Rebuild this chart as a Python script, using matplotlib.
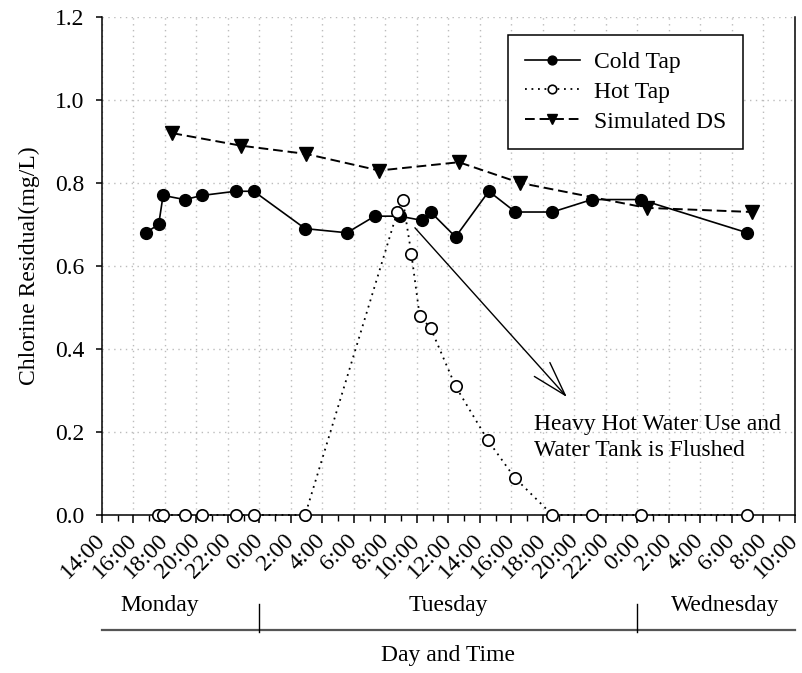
import matplotlib
matplotlib.use('Agg')
import matplotlib.pyplot as plt
import matplotlib.transforms as mtransforms
from matplotlib.lines import Line2D
from matplotlib.ticker import MultipleLocator

plt.rcParams['font.family'] = ['Liberation Serif', 'DejaVu Serif']
plt.rcParams['font.size'] = 17

# sampling times in hours counted from Monday 0:00
cold_time = [16.77, 17.6, 17.88, 19.25, 20.37, 22.48, 23.64, 26.9, 29.55, 31.32,
             32.9, 34.3, 34.87, 36.45, 38.56, 40.25, 42.6, 45.1, 48.2, 54.97]
cold_cl = [0.68, 0.70, 0.77, 0.76, 0.77, 0.78, 0.78, 0.69, 0.68, 0.72,
           0.72, 0.71, 0.73, 0.67, 0.78, 0.73, 0.73, 0.76, 0.76, 0.68]

hot_time = [17.56, 17.88, 19.25, 20.37, 22.48, 23.64, 26.9, 32.75, 33.1, 33.64,
            34.17, 34.87, 36.45, 38.5, 40.2, 42.6, 45.1, 48.2, 54.97]
hot_cl = [0.0, 0.0, 0.0, 0.0, 0.0, 0.0, 0.0, 0.73, 0.76, 0.63,
          0.48, 0.45, 0.31, 0.18, 0.09, 0.0, 0.0, 0.0, 0.0]

sim_time = [18.47, 22.8, 26.96, 31.6, 36.66, 40.56, 48.58, 55.3]
sim_cl = [0.92, 0.89, 0.87, 0.83, 0.85, 0.80, 0.74, 0.73]

days = ['Monday', 'Tuesday', 'Wednesday']
day_label_x = [17.65, 36.0, 53.55]
day_breaks = [24, 48]

t_start, t_end = 14, 58
tick_hours = list(range(t_start, t_end + 1, 2))
tick_labels = [f'{h % 24}:00' for h in tick_hours]

fig = plt.figure(figsize=(8.03, 6.73), dpi=100)
ax = fig.add_axes([0.127, 0.2348, 0.863, 0.740])

ax.plot(cold_time, cold_cl, '-', color='black', lw=1.2, marker='o',
        ms=8.5, mfc='black', mec='black', label='Cold Tap', zorder=3, clip_on=False)
ax.plot(hot_time, hot_cl, color='black', lw=1.3, ls=(0, (1, 2.6)), marker='o',
        ms=8.2, mfc='white', mec='black', mew=1.2, label='Hot Tap', zorder=4, clip_on=False)
ax.plot(sim_time, sim_cl, color='black', lw=1.4, dashes=(5, 2.5), marker='v',
        ms=10, mfc='black', mec='black', label='Simulated DS', zorder=3, clip_on=False)

ax.set_xlim(t_start, t_end)
ax.set_ylim(0, 1.2)
ax.set_xticks(tick_hours)
ax.set_xticklabels(tick_labels, rotation=45, ha='right', va='center',
                   rotation_mode='anchor')
ax.xaxis.set_minor_locator(MultipleLocator(1))
ax.set_yticks([0, 0.2, 0.4, 0.6, 0.8, 1.0, 1.2])
ax.set_yticklabels(['0.0', '0.2', '0.4', '0.6', '0.8', '1.0', '1.2'])
ax.tick_params(axis='x', which='major', direction='out', length=6, width=1.1, pad=10)
ax.tick_params(axis='x', which='minor', direction='out', length=4, width=1.0)
ax.tick_params(axis='y', which='major', direction='out', length=4.5, width=1.1, pad=8)
ax.set_ylabel('Chlorine Residual(mg/L)', labelpad=11)

ax.grid(True, which='major', color='#bcbcbc', lw=1.0, ls=(0, (1, 3.2)))
ax.set_axisbelow(True)
ax.spines['top'].set_visible(False)
for side in ['left', 'bottom', 'right']:
    ax.spines[side].set_linewidth(1.1)

leg = ax.legend(loc='upper left', bbox_to_anchor=(0.586, 0.964), borderaxespad=0,
                fancybox=False, framealpha=1, edgecolor='black', fontsize=17,
                handlelength=2.35, handletextpad=0.6, labelspacing=0.35,
                borderpad=0.7, markerscale=0.75)
leg.get_frame().set_linewidth(1.1)

# note about the hot water peak
ax.annotate('', xy=(43.52, 0.284), xytext=(33.87, 0.692),
            arrowprops=dict(arrowstyle='->, head_length=2.5, head_width=0.75',
                            mutation_scale=10, lw=1.0, color='black',
                            shrinkA=0, shrinkB=0))
ax.text(41.43, 0.187, 'Heavy Hot Water Use and\nWater Tank is Flushed',
        ha='left', va='center', linespacing=1.3)

# day band under the time axis
trans = mtransforms.blended_transform_factory(ax.transData, fig.transFigure)
ax.add_line(Line2D([t_start, t_end], [0.0639, 0.0639], transform=trans,
                   color='#555555', lw=1.6, clip_on=False))
for b in day_breaks:
    ax.add_line(Line2D([b, b], [0.061, 0.1025], transform=trans,
                       color='black', lw=1.0, clip_on=False))
for name, x in zip(days, day_label_x):
    ax.text(x, 0.0996, name, transform=trans, ha='center', va='center')
ax.text((t_start + t_end) / 2, 0.0253, 'Day and Time', transform=trans,
        ha='center', va='center')

fig.savefig('out.png', dpi=100)
